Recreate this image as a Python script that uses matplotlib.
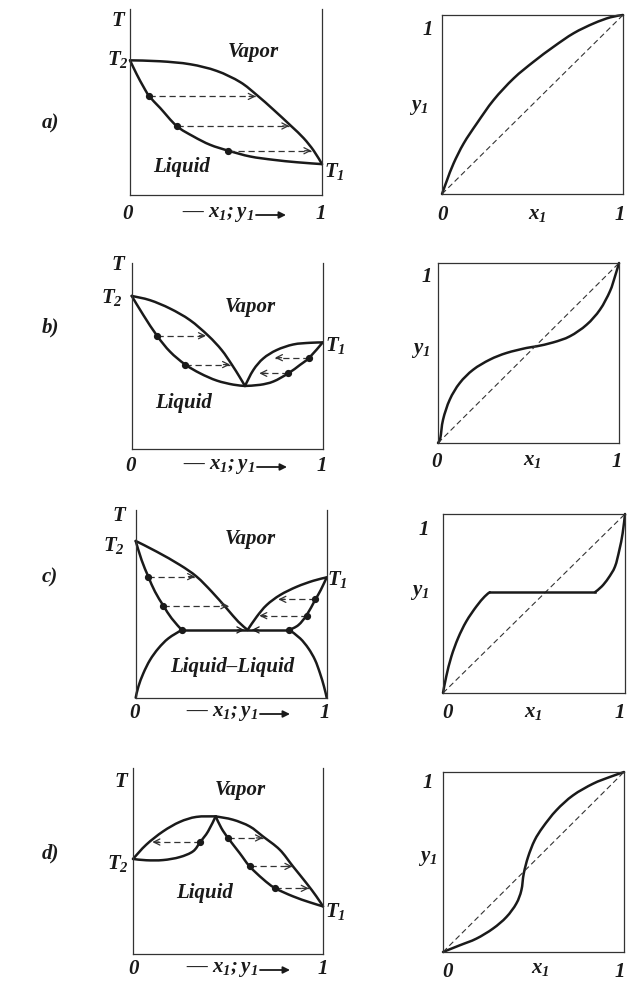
import numpy as np
import matplotlib.pyplot as plt
from matplotlib.path import Path
from matplotlib.patches import PathPatch, FancyArrowPatch

plt.rcParams['mathtext.fontset'] = 'custom'
plt.rcParams['mathtext.it'] = 'Liberation Serif:italic:bold'
plt.rcParams['mathtext.rm'] = 'Liberation Serif:italic:bold'
plt.rcParams['mathtext.bf'] = 'Liberation Serif:italic:bold'

########################################
#   Data (x = mole fraction, T scaled 0..1 inside each box)
########################################

# a) ideal-like system
a_liq_x = [0, 0.035, 0.070, 0.101, 0.157, 0.243, 0.330, 0.417, 0.513, 0.626, 0.748, 0.870, 1.0]
a_liq_T = [0.724, 0.649, 0.582, 0.530, 0.468, 0.371, 0.315, 0.270, 0.238, 0.207, 0.189, 0.176, 0.166]
a_vap_x = [0, 0.157, 0.313, 0.452, 0.574, 0.661, 0.748, 0.838, 0.904, 0.957, 1.0]
a_vap_T = [0.724, 0.719, 0.703, 0.667, 0.607, 0.537, 0.458, 0.372, 0.306, 0.238, 0.166]
a_tie_T = [0.530, 0.371, 0.238]
a_tie_x0 = [0.101, 0.243, 0.513]
a_tie_x1 = [0.655, 0.830, 0.945]
a_yx_x = [0, 0.028, 0.064, 0.120, 0.193, 0.285, 0.396, 0.506, 0.617, 0.727, 0.838, 0.930, 1.0]
a_yx_y = [0, 0.078, 0.171, 0.283, 0.395, 0.525, 0.646, 0.739, 0.823, 0.898, 0.953, 0.987, 1.0]

# b) minimum-boiling azeotrope
b_liqL_x = [0, 0.061, 0.134, 0.201, 0.279, 0.358, 0.445, 0.532, 0.593]
b_liqL_T = [0.823, 0.720, 0.607, 0.523, 0.455, 0.407, 0.368, 0.346, 0.339]
b_vapL_x = [0, 0.096, 0.201, 0.305, 0.401, 0.471, 0.524, 0.564, 0.593]
b_vapL_T = [0.823, 0.800, 0.755, 0.693, 0.609, 0.532, 0.454, 0.389, 0.339]
b_vapR_x = [0.593, 0.637, 0.689, 0.759, 0.846, 0.934, 1.0]
b_vapR_T = [0.339, 0.425, 0.487, 0.532, 0.562, 0.571, 0.573]
b_liqR_x = [0.593, 0.672, 0.742, 0.820, 0.881, 0.930, 1.0]
b_liqR_T = [0.339, 0.345, 0.363, 0.407, 0.452, 0.491, 0.573]
b_tie_T = [0.609, 0.454, 0.491, 0.407]
b_tie_x0 = [0.134, 0.279, 0.930, 0.820]
b_tie_x1 = [0.389, 0.515, 0.750, 0.668]
b_yx_x = [0, 0.013, 0.028, 0.065, 0.120, 0.194, 0.286, 0.378, 0.489, 0.544, 0.637, 0.729, 0.821, 0.895, 0.950, 0.978, 1.0]
b_yx_y = [0, 0.028, 0.130, 0.241, 0.333, 0.407, 0.463, 0.500, 0.528, 0.537, 0.559, 0.593, 0.657, 0.741, 0.843, 0.926, 1.0]

# c) heterogeneous azeotrope
c_liqL_x = [0, 0.031, 0.066, 0.101, 0.145, 0.188, 0.241]
c_liqL_T = [0.835, 0.733, 0.645, 0.565, 0.490, 0.423, 0.361]
c_vapL_x = [0, 0.110, 0.232, 0.319, 0.398, 0.476, 0.537, 0.586]
c_vapL_T = [0.835, 0.778, 0.707, 0.645, 0.565, 0.476, 0.405, 0.361]
c_vapR_x = [0.586, 0.634, 0.686, 0.756, 0.843, 0.930, 1.0]
c_vapR_T = [0.361, 0.432, 0.494, 0.547, 0.591, 0.623, 0.641]
c_liqR_x = [0.805, 0.852, 0.895, 0.939, 0.969, 1.0]
c_liqR_T = [0.361, 0.387, 0.440, 0.520, 0.574, 0.641]
c_llL_x = [0, 0.014, 0.040, 0.075, 0.119, 0.171, 0.241]
c_llL_T = [0, 0.059, 0.130, 0.201, 0.263, 0.316, 0.361]
c_llR_x = [0.805, 0.861, 0.904, 0.939, 0.965, 0.986, 1.0]
c_llR_T = [0.361, 0.316, 0.263, 0.201, 0.130, 0.059, 0]
c_three_T = 0.361
c_three_x = [0.241, 0.586, 0.805]
c_tie_T = [0.645, 0.490, 0.524, 0.437]
c_tie_x0 = [0.066, 0.145, 0.939, 0.895]
c_tie_x1 = [0.311, 0.485, 0.747, 0.647]
c_yx_lo_x = [0, 0.018, 0.046, 0.083, 0.128, 0.183, 0.229, 0.257]
c_yx_lo_y = [0, 0.093, 0.204, 0.307, 0.400, 0.483, 0.539, 0.563]
c_yx_hi_x = [0.835, 0.872, 0.908, 0.945, 0.969, 0.987, 1.0]
c_yx_hi_y = [0.563, 0.595, 0.641, 0.706, 0.799, 0.892, 1.0]

# d) maximum-boiling azeotrope
d_vapL_x = [0, 0.070, 0.158, 0.246, 0.333, 0.435]
d_vapL_T = [0.511, 0.588, 0.659, 0.710, 0.737, 0.740]
d_liqL_x = [0, 0.070, 0.158, 0.246, 0.316, 0.354, 0.395, 0.435]
d_liqL_T = [0.511, 0.504, 0.505, 0.521, 0.552, 0.602, 0.659, 0.740]
d_liqR_x = [0.435, 0.465, 0.500, 0.561, 0.614, 0.684, 0.746, 0.842, 0.930, 1.0]
d_liqR_T = [0.740, 0.677, 0.624, 0.543, 0.471, 0.403, 0.355, 0.310, 0.278, 0.256]
d_vapR_x = [0.435, 0.526, 0.614, 0.684, 0.772, 0.842, 0.912, 0.965, 1.0]
d_vapR_T = [0.740, 0.722, 0.686, 0.632, 0.561, 0.471, 0.382, 0.310, 0.256]
d_tie_T = [0.602, 0.624, 0.471, 0.353]
d_tie_x0 = [0.354, 0.500, 0.614, 0.749]
d_tie_x1 = [0.102, 0.684, 0.839, 0.925]
d_yx_x = [0, 0.092, 0.184, 0.276, 0.350, 0.405, 0.433, 0.446, 0.470, 0.506, 0.552, 0.626, 0.718, 0.829, 0.921, 1.0]
d_yx_y = [0, 0.037, 0.074, 0.130, 0.194, 0.269, 0.343, 0.435, 0.528, 0.620, 0.694, 0.787, 0.870, 0.935, 0.972, 1.0]

########################################
#   Plot helpers
########################################

W, H = 627, 981
ink = '#1a1a1a'
grey = '#333333'
fig = plt.figure(figsize=(W / 100, H / 100), dpi=100)


def box(x0, y0, x1, y1):
    return [x0 / W, 1 - y1 / H, (x1 - x0) / W, (y1 - y0) / H]


def label(x, y, s, size=15, ha='center'):
    fig.text(x / W, 1 - y / H, s, ha=ha, va='center', fontsize=size,
             family='Liberation Serif', style='italic', weight='bold', color=ink)


def xlabel(cx, y):
    # "— x1;y1 ->" below the T-x box
    label(cx - 14, y, '— $x_1;y_1$')
    fig.add_artist(FancyArrowPatch(
        ((cx + 24) / W, 1 - (y + 1) / H), ((cx + 54) / W, 1 - (y + 1) / H),
        transform=fig.transFigure, arrowstyle='-|>', mutation_scale=10,
        lw=1.3, color=ink, shrinkA=0, shrinkB=0))


def frame(ax, top=True):
    ax.set_xlim(0, 1)
    ax.set_ylim(0, 1)
    ax.set_xticks([])
    ax.set_yticks([])
    for s in ax.spines.values():
        s.set_linewidth(0.9)
        s.set_color(grey)
    ax.spines['top'].set_visible(top)


def curve(ax, x, y, lw=1.8):
    # smooth path through the read points (Catmull-Rom as cubic Bezier)
    p = np.column_stack([x, y]).astype(float)
    n = len(p)
    verts = [p[0]]
    codes = [Path.MOVETO]
    for i in range(n - 1):
        p0 = p[i - 1] if i > 0 else p[i]
        p3 = p[i + 2] if i + 2 < n else p[i + 1]
        verts += [p[i] + (p[i + 1] - p0) / 6, p[i + 1] - (p3 - p[i]) / 6, p[i + 1]]
        codes += [Path.CURVE4] * 3
    ax.add_patch(PathPatch(Path(verts, codes), fill=False, ec=ink, lw=lw,
                           clip_on=False, capstyle='round', joinstyle='round'))


def head(ax, x, t, d, color=grey):
    ax.annotate('', xy=(x, t), xytext=(x - d, t),
                arrowprops=dict(arrowstyle='->', lw=0.9, color=color,
                                shrinkA=0, shrinkB=0, mutation_scale=11))


def tie(ax, x0, x1, t):
    ax.plot([x0, x1], [t, t], color=grey, lw=0.9, ls=(0, (5, 3)))
    head(ax, x1, t, 0.035 if x1 > x0 else -0.035)
    ax.plot(x0, t, 'o', color=ink, ms=4.2)


def yx(ax, x, y):
    frame(ax)
    ax.plot([0, 1], [0, 1], color=grey, lw=0.8, ls=(0, (5, 3)))
    curve(ax, x, y)


########################################
#   a)
########################################
ax = fig.add_axes(box(130, 9, 322, 195))
frame(ax, top=False)
curve(ax, a_liq_x, a_liq_T)
curve(ax, a_vap_x, a_vap_T)
for t, x0, x1 in zip(a_tie_T, a_tie_x0, a_tie_x1):
    tie(ax, x0, x1, t)
ax = fig.add_axes(box(442, 15, 623, 194))
yx(ax, a_yx_x, a_yx_y)

########################################
#   b)
########################################
ax = fig.add_axes(box(131.7, 263, 322.7, 449))
frame(ax, top=False)
for xs, ts in [(b_liqL_x, b_liqL_T), (b_vapL_x, b_vapL_T), (b_vapR_x, b_vapR_T), (b_liqR_x, b_liqR_T)]:
    curve(ax, xs, ts)
for t, x0, x1 in zip(b_tie_T, b_tie_x0, b_tie_x1):
    tie(ax, x0, x1, t)
ax = fig.add_axes(box(438, 263, 619, 443))
yx(ax, b_yx_x, b_yx_y)

########################################
#   c)
########################################
ax = fig.add_axes(box(135.7, 510, 326.7, 697.7))
frame(ax, top=False)
for xs, ts in [(c_liqL_x, c_liqL_T), (c_vapL_x, c_vapL_T), (c_vapR_x, c_vapR_T),
               (c_liqR_x, c_liqR_T), (c_llL_x, c_llL_T), (c_llR_x, c_llR_T)]:
    curve(ax, xs, ts)
ax.plot([c_three_x[0], c_three_x[2]], [c_three_T, c_three_T], color=ink, lw=1.8)
head(ax, c_three_x[1] - 0.017, c_three_T, 0.035, ink)
head(ax, c_three_x[1] + 0.021, c_three_T, -0.035, ink)
ax.plot([c_three_x[0], c_three_x[2]], [c_three_T, c_three_T], 'o', color=ink, ms=4.2)
for t, x0, x1 in zip(c_tie_T, c_tie_x0, c_tie_x1):
    tie(ax, x0, x1, t)
ax = fig.add_axes(box(443, 514, 625, 693))
frame(ax)
ax.plot([0, 1], [0, 1], color=grey, lw=0.8, ls=(0, (5, 3)))
curve(ax, c_yx_lo_x, c_yx_lo_y)
ax.plot([c_yx_lo_x[-1], c_yx_hi_x[0]], [c_yx_lo_y[-1], c_yx_hi_y[0]], color=ink, lw=1.8)
curve(ax, c_yx_hi_x, c_yx_hi_y)

########################################
#   d)
########################################
ax = fig.add_axes(box(133, 768, 323, 954))
frame(ax, top=False)
for xs, ts in [(d_vapL_x, d_vapL_T), (d_liqL_x, d_liqL_T), (d_liqR_x, d_liqR_T), (d_vapR_x, d_vapR_T)]:
    curve(ax, xs, ts)
for t, x0, x1 in zip(d_tie_T, d_tie_x0, d_tie_x1):
    tie(ax, x0, x1, t)
ax = fig.add_axes(box(443, 772, 624, 952))
yx(ax, d_yx_x, d_yx_y)

########################################
#   Texts
########################################

# a)
label(50, 123, 'a)')
label(119, 21, '$T$')
label(118, 60, '$T_2$')
label(334, 172, '$T_1$')
label(253, 52, 'Vapor')
label(182, 167, 'Liquid')
label(128, 214, '0'); xlabel(232, 214); label(321, 214, '1')
label(428, 30, '1'); label(419, 107, '$y_1$')
label(443, 215, '0'); label(537, 214, '$x_1$'); label(620, 215, '1')

# b)
label(50, 327, 'b)')
label(119, 265, '$T$')
label(112, 297, '$T_2$')
label(335, 345, '$T_1$')
label(250, 307, 'Vapor')
label(184, 403, 'Liquid')
label(131, 466, '0'); xlabel(233, 466); label(322, 466, '1')
label(427, 277, '1'); label(421, 350, '$y_1$')
label(437, 462, '0'); label(532, 460, '$x_1$'); label(617, 462, '1')

# c)
label(50, 577, 'c)')
label(120, 516, '$T$')
label(114, 545, '$T_2$')
label(337, 579, '$T_1$')
label(250, 539, 'Vapor')
label(232, 667, 'Liquid–Liquid')
label(135, 713, '0'); xlabel(236, 713); label(325, 713, '1')
label(424, 530, '1'); label(420, 592, '$y_1$')
label(448, 713, '0'); label(533, 712, '$x_1$'); label(620, 713, '1')

# d)
label(50, 853, 'd)')
label(122, 782, '$T$')
label(118, 864, '$T_2$')
label(335, 912, '$T_1$')
label(240, 790, 'Vapor')
label(205, 893, 'Liquid')
label(134, 969, '0'); xlabel(236, 969); label(323, 969, '1')
label(428, 783, '1'); label(428, 858, '$y_1$')
label(448, 972, '0'); label(540, 968, '$x_1$'); label(620, 972, '1')

plt.savefig('out.png', dpi=100)
